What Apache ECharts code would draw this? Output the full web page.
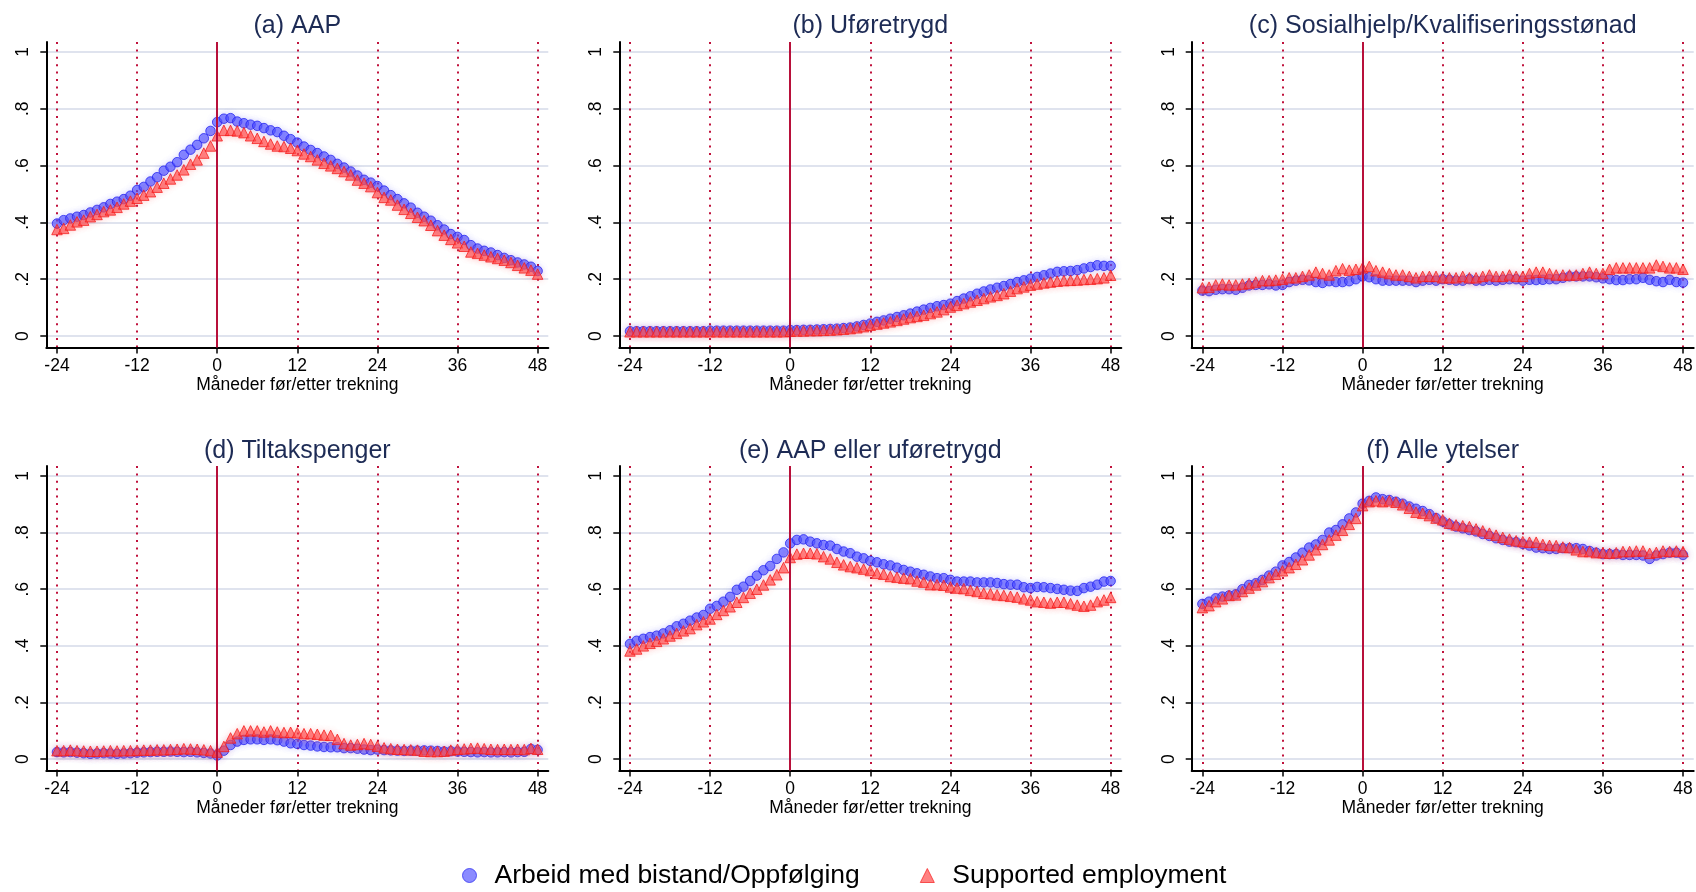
<!DOCTYPE html>
<html>
<head>
<meta charset="utf-8">
<script src="https://cdn.jsdelivr.net/npm/echarts@6/dist/echarts.min.js"></script>
<style>html,body{margin:0;padding:0;background:#fff}#c{width:1696px;height:892px}</style>
</head>
<body>
<div id="c"></div>
<script>
// ---- data ----
const months = [];
for (let m = -24; m <= 48; m++) months.push(m);
const xTicks = [-24, -12, 0, 12, 24, 36, 48];
const yTicks = [0, 0.2, 0.4, 0.6, 0.8, 1];
const yTickLabels = ['0', '.2', '.4', '.6', '.8', '1'];
const xName = 'Måneder før/etter trekning';
const seriesNames = ['Arbeid med bistand/Oppfølging', 'Supported employment'];
const titles = ['(a) AAP', '(b) Uføretrygd', '(c) Sosialhjelp/Kvalifiseringsstønad',
                '(d) Tiltakspenger', '(e) AAP eller uføretrygd', '(f) Alle ytelser'];

const aapArbeid = [.396,.408,.414,.42,.426,.435,.444,.453,.465,.473,.482,.494,.514,.525,.544,.559,.582,.596,.612,.638,.656,.673,.696,.722,.753,
 .765,.767,.755,.749,.744,.74,.732,.724,.718,.705,.693,.681,.667,.655,.644,.632,.62,.606,.593,.579,.565,.55,.54,.528,.512,.496,.482,.467,.452,.434,.42,.406,.39,.375,.359,.349,.338,.32,.308,.3,.294,.285,.275,.267,.259,.252,.244,.229];
const aapSupported = [.375,.379,.391,.402,.408,.42,.428,.438,.444,.453,.465,.475,.485,.496,.508,.524,.538,.553,.567,.585,.605,.62,.644,.669,.705,
 .724,.724,.722,.716,.705,.696,.685,.676,.669,.667,.661,.653,.641,.632,.62,.608,.599,.59,.579,.567,.549,.538,.526,.505,.488,.479,.461,.446,.432,.418,.406,.39,.371,.355,.34,.328,.316,.296,.291,.285,.279,.273,.267,.259,.249,.24,.232,.218];

const uforArbeid = [.017,.017,.017,.017,.017,.017,.017,.017,.017,.017,.017,.017,.019,.019,.019,.019,.019,.019,.019,.019,.019,.019,.019,.019,.021,
 .021,.022,.022,.023,.024,.025,.026,.028,.03,.034,.039,.044,.05,.055,.061,.067,.073,.079,.086,.093,.099,.105,.109,.114,.123,.132,.14,.149,.157,.164,.17,.176,.183,.19,.196,.202,.208,.214,.22,.226,.228,.229,.232,.238,.243,.249,.247,.247];
const uforSupported = [.015,.015,.015,.015,.015,.015,.015,.015,.015,.015,.015,.015,.015,.015,.015,.015,.015,.015,.015,.015,.015,.015,.015,.015,.017,
 .018,.018,.019,.019,.02,.021,.022,.024,.026,.029,.033,.038,.042,.046,.05,.055,.06,.065,.069,.073,.079,.085,.093,.102,.108,.114,.12,.126,.132,.138,.143,.149,.158,.167,.173,.179,.183,.187,.19,.193,.195,.196,.197,.199,.2,.202,.205,.214];

const sosArbeid = [.16,.158,.163,.165,.165,.163,.17,.178,.18,.18,.182,.178,.18,.19,.195,.198,.196,.19,.187,.193,.19,.19,.193,.2,.21,
 .207,.2,.195,.195,.195,.195,.195,.19,.195,.198,.195,.2,.198,.195,.195,.2,.195,.195,.198,.195,.198,.2,.2,.195,.198,.197,.198,.2,.2,.205,.21,.21,.21,.21,.207,.203,.2,.197,.197,.2,.2,.205,.198,.193,.19,.198,.19,.188];
const sosSupported = [.17,.172,.18,.183,.18,.18,.183,.185,.19,.195,.195,.197,.2,.205,.205,.21,.215,.225,.22,.215,.23,.237,.232,.235,.24,
 .245,.23,.225,.22,.215,.215,.21,.205,.21,.21,.21,.205,.205,.205,.21,.205,.205,.21,.215,.21,.21,.215,.21,.21,.22,.225,.225,.22,.215,.215,.215,.215,.22,.225,.22,.22,.235,.24,.24,.24,.24,.24,.24,.25,.245,.24,.24,.235];

const tiltArbeid = [.025,.024,.025,.023,.021,.019,.02,.021,.02,.019,.02,.021,.023,.024,.025,.026,.026,.027,.026,.025,.026,.024,.022,.02,.013,
 .03,.05,.062,.068,.07,.07,.068,.07,.067,.062,.056,.054,.05,.048,.045,.043,.042,.042,.039,.039,.037,.034,.032,.034,.032,.031,.03,.029,.03,.03,.031,.03,.029,.027,.028,.027,.026,.025,.024,.025,.024,.024,.025,.024,.025,.026,.036,.033];
const tiltSupported = [.03,.03,.032,.03,.029,.028,.028,.029,.03,.029,.03,.03,.031,.032,.032,.033,.033,.034,.035,.037,.036,.035,.033,.03,.025,
 .045,.075,.09,.1,.1,.1,.096,.1,.096,.094,.095,.093,.09,.09,.088,.085,.084,.07,.055,.05,.052,.055,.052,.046,.04,.037,.035,.034,.033,.032,.028,.027,.027,.028,.032,.035,.036,.038,.039,.037,.035,.034,.035,.034,.035,.034,.038,.035];

const aapUforArbeid = [.407,.418,.425,.431,.436,.444,.455,.469,.478,.489,.5,.509,.531,.541,.556,.573,.598,.609,.629,.648,.667,.682,.707,.73,.762,
 .774,.776,.768,.762,.756,.754,.742,.733,.727,.715,.709,.7,.695,.688,.684,.676,.668,.662,.656,.651,.645,.639,.639,.633,.627,.627,.627,.624,.624,.624,.622,.618,.616,.616,.607,.604,.608,.607,.604,.601,.598,.595,.594,.604,.609,.616,.627,.629];
const aapUforSupported = [.382,.389,.4,.409,.416,.425,.435,.444,.453,.461,.475,.485,.495,.511,.525,.538,.554,.571,.586,.6,.615,.633,.651,.676,.712,
 .724,.727,.727,.725,.715,.707,.695,.686,.68,.676,.671,.666,.656,.653,.645,.642,.639,.637,.629,.625,.616,.616,.614,.608,.604,.602,.596,.592,.586,.584,.58,.578,.575,.572,.566,.562,.556,.554,.551,.554,.554,.549,.544,.54,.544,.556,.562,.571];

const alleArbeid = [.548,.556,.568,.574,.578,.582,.6,.615,.621,.633,.648,.662,.684,.696,.712,.729,.747,.758,.774,.8,.809,.829,.85,.871,.902,
 .912,.924,.918,.915,.909,.902,.892,.884,.876,.865,.851,.839,.829,.821,.815,.809,.804,.795,.788,.78,.774,.768,.766,.76,.754,.747,.745,.742,.742,.745,.745,.745,.742,.735,.729,.724,.724,.724,.721,.721,.721,.719,.707,.719,.724,.729,.729,.721];
const alleSupported = [.535,.542,.556,.566,.578,.58,.592,.604,.615,.627,.641,.653,.665,.676,.688,.704,.721,.739,.758,.774,.791,.808,.829,.85,.895,
 .909,.912,.909,.912,.907,.898,.886,.872,.868,.86,.851,.845,.833,.827,.824,.821,.813,.806,.798,.791,.783,.777,.771,.768,.766,.766,.758,.755,.754,.749,.747,.739,.733,.733,.729,.729,.727,.729,.733,.733,.735,.735,.727,.73,.735,.733,.735,.733];

const panelData = [
  [aapArbeid, aapSupported], [uforArbeid, uforSupported], [sosArbeid, sosSupported],
  [tiltArbeid, tiltSupported], [aapUforArbeid, aapUforSupported], [alleArbeid, alleSupported]
];

// ---- layout / style ----
const FONT = '"Liberation Sans", Arial, Helvetica, sans-serif';
const colLeft = [46.3, 619.3, 1191.7];
const colW = 502;
const rowTop = [42, 466];
const rowH = [305.4, 304.5];
const titleTop = [14, 439];
const red = '#c0123c';

const grids = [], xAxes = [], yAxes = [], series = [], titleList = [];
for (let p = 0; p < 6; p++) {
  const r = Math.floor(p / 3), c = p % 3;
  grids.push({left: colLeft[c], top: rowTop[r], width: colW, height: rowH[r], containLabel: false});
  titleList.push({
    text: titles[p], left: colLeft[c] + colW / 2, top: titleTop[r], textAlign: 'center', padding: 0,
    textStyle: {fontFamily: FONT, fontSize: 25, fontWeight: 'normal', color: '#1d2b55'}
  });
  xAxes.push({
    gridIndex: p, type: 'value', min: -25.6, max: 49.6,
    name: xName, nameLocation: 'middle', nameGap: 27,
    nameTextStyle: {fontFamily: FONT, fontSize: 17.5, color: '#000'},
    axisLine: {show: true, onZero: false, lineStyle: {color: '#000', width: 2}},
    axisTick: {show: true, length: 6, customValues: xTicks, lineStyle: {color: '#000', width: 1.5}},
    axisLabel: {customValues: xTicks, margin: 10, fontFamily: FONT, fontSize: 17.5, color: '#000',
                formatter: v => String(v)},
    splitLine: {show: true, lineStyle: {color: red, width: 2, type: [2, 5.4]}}
  });
  yAxes.push({
    gridIndex: p, type: 'value', min: -0.04, max: 1.035,
    axisLine: {show: true, onZero: false, lineStyle: {color: '#000', width: 2}},
    axisTick: {show: true, length: 6, customValues: yTicks, lineStyle: {color: '#000', width: 1.5}},
    axisLabel: {customValues: yTicks, rotate: 90, margin: 14, fontFamily: FONT, fontSize: 17.5, color: '#000',
                formatter: v => yTickLabels[yTicks.findIndex(t => Math.abs(t - v) < 1e-6)] || ''},
    splitLine: {show: true, lineStyle: {color: '#dfe3ee', width: 2}}
  });
  const [blueVals, redVals] = panelData[p];
  series.push({
    name: seriesNames[0], type: 'scatter', xAxisIndex: p, yAxisIndex: p,
    data: months.map((m, i) => [m, blueVals[i]]),
    symbol: 'circle', symbolSize: 9.5,
    itemStyle: {color: 'rgba(75,75,255,0.8)', borderColor: 'rgba(30,30,240,0.95)', borderWidth: 1,
                shadowBlur: 6, shadowColor: 'rgba(120,120,255,0.35)'},
    markLine: {silent: true, symbol: 'none', animation: false, label: {show: false},
               lineStyle: {color: '#b8103a', width: 2, type: 'solid'}, data: [{xAxis: 0}]},
    animation: false, z: 3
  });
  series.push({
    name: seriesNames[1], type: 'scatter', xAxisIndex: p, yAxisIndex: p,
    data: months.map((m, i) => [m, redVals[i]]),
    symbol: 'triangle', symbolSize: 10.5,
    itemStyle: {color: 'rgba(255,65,65,0.8)', borderColor: 'rgba(245,25,25,0.95)', borderWidth: 1,
                shadowBlur: 6, shadowColor: 'rgba(255,120,120,0.4)'},
    animation: false, z: 4
  });
}

const chart = echarts.init(document.getElementById('c'), null, {renderer: 'canvas'});
chart.setOption({
  animation: false,
  backgroundColor: '#fff',
  title: titleList,
  grid: grids,
  xAxis: xAxes,
  yAxis: yAxes,
  legend: {
    data: [
      {name: seriesNames[0], icon: 'circle', itemStyle: {color: 'rgba(85,85,255,0.85)', borderColor: 'rgba(40,40,240,0.9)', borderWidth: 1, shadowBlur: 0}},
      {name: seriesNames[1], icon: 'triangle', itemStyle: {color: 'rgba(255,70,70,0.85)', borderColor: 'rgba(245,30,30,0.9)', borderWidth: 1, shadowBlur: 0}}
    ],
    left: 457, top: 857, itemWidth: 14, itemHeight: 14, itemGap: 60,
    textStyle: {fontFamily: FONT, fontSize: 26.5, color: '#000', padding: [0, 0, 0, 13]},
    selectedMode: false
  },
  series: series
});
</script>
</body>
</html>
